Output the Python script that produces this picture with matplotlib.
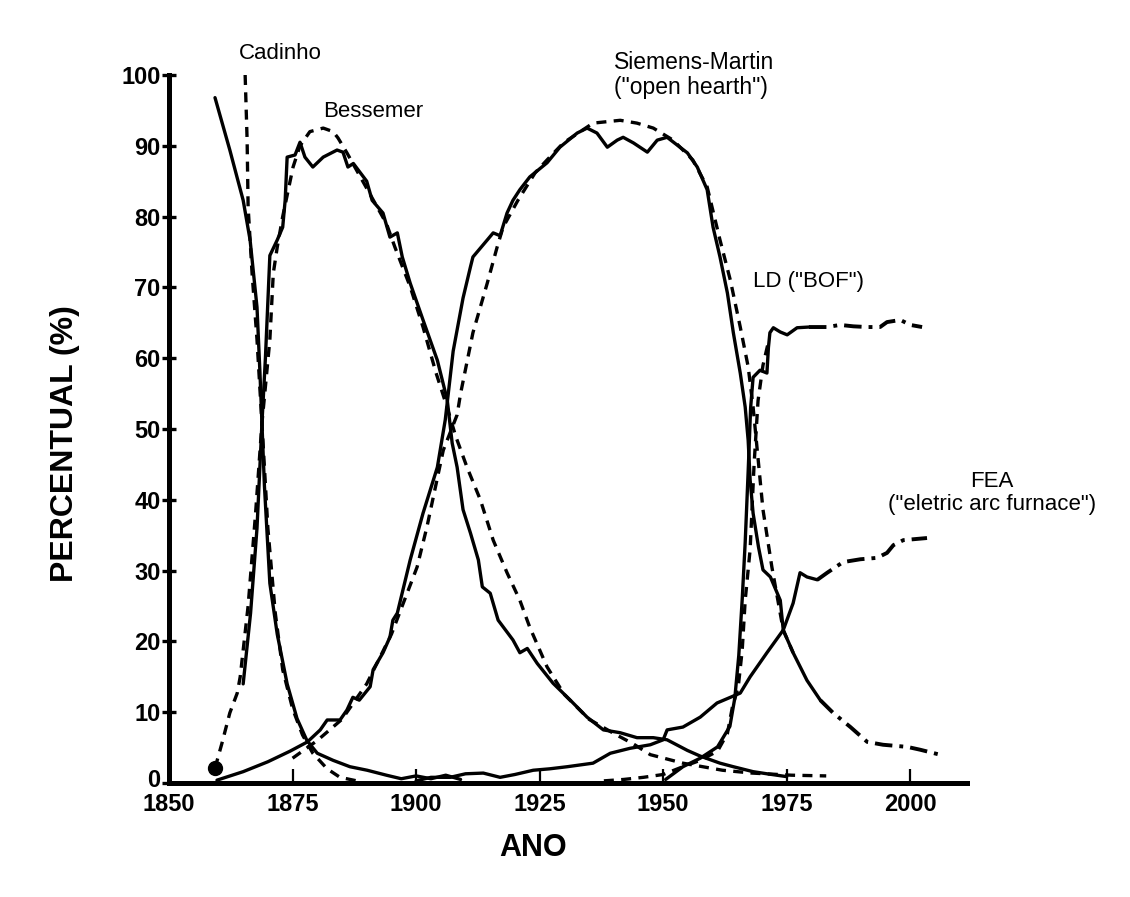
import matplotlib
matplotlib.use("Agg")
import matplotlib.pyplot as plt
import matplotlib.transforms as mtransforms

# ==========================================================
#  dados (ano, percentual)
# ==========================================================
cad_real_x = [1859.3, 1862.3, 1865.0, 1866.4, 1867.8, 1868.4, 1868.8, 1869.3, 1870.4, 1871.9,
              1873.9, 1875.9, 1877.9, 1880.0, 1883.2, 1886.6, 1890.1, 1894.0, 1897.0, 1900.0,
              1903.0, 1906.0, 1909.0]
cad_real_y = [96.8, 89.4, 82.3, 76.7, 67.2, 57.9, 50.8, 42.0, 28.2, 21.0,
              14.0, 9.1, 6.0, 4.2, 3.2, 2.3, 1.8, 1.1, 0.6, 1.0,
              0.6, 1.1, 0.5]

cad_fit_x = [1865.4, 1865.8, 1866.0, 1866.8, 1867.8, 1868.8, 1870.0, 1871.5, 1873.0, 1875.0,
             1877.0, 1879.1, 1882.0, 1884.6, 1888.0]
cad_fit_y = [100.0, 90.8, 81.4, 72.0, 62.6, 50.8, 36.0, 24.0, 16.0, 10.5,
             6.8, 4.2, 2.0, 0.8, 0.3]

bes_real_x = [1865.0, 1866.5, 1867.8, 1868.8, 1869.5, 1870.0, 1870.4, 1871.9, 1873.0, 1873.5,
              1873.9, 1875.5, 1876.5, 1877.5, 1879.1, 1881.2, 1884.0, 1885.2, 1886.2, 1887.3,
              1888.7, 1890.0, 1891.1, 1893.3, 1894.7, 1896.2, 1897.2, 1898.8, 1901.4, 1904.3,
              1906.3, 1907.3, 1908.3, 1909.5, 1911.0, 1912.6, 1913.4, 1915.0, 1916.6, 1919.6,
              1921.0, 1922.5, 1924.5, 1927.7, 1931.2, 1934.6, 1937.9, 1941.3, 1944.7, 1948.0,
              1950.8, 1954.9, 1957.5, 1961.5, 1964.2, 1968.2, 1971.0, 1975.0]
bes_real_y = [14.0, 24.0, 36.0, 50.8, 60.0, 68.0, 74.5, 76.7, 78.5, 82.3,
              88.4, 88.7, 90.5, 88.4, 87.0, 88.4, 89.4, 89.1, 87.0, 87.5,
              86.2, 85.0, 82.3, 80.5, 77.1, 77.7, 74.3, 70.6, 65.4, 59.7,
              54.1, 48.0, 44.6, 38.6, 35.3, 31.5, 27.7, 26.8, 23.0, 20.2,
              18.4, 19.0, 16.9, 14.1, 11.7, 9.3, 7.5, 7.1, 6.4, 6.4,
              6.1, 4.6, 3.8, 2.8, 2.3, 1.6, 1.3, 0.9]

bes_fit_x = [1859.3, 1860.7, 1862.3, 1863.8, 1864.4, 1866.0, 1867.5, 1868.8, 1870.4, 1871.1,
             1871.9, 1873.0, 1875.1, 1876.5, 1878.5, 1881.2, 1883.2, 1884.2, 1886.0, 1888.0,
             1890.0, 1892.0, 1894.0, 1895.7, 1898.8, 1901.4, 1904.0, 1906.3, 1908.0, 1910.3,
             1913.0, 1915.6, 1918.4, 1921.0, 1923.0, 1926.5, 1930.0, 1935.0, 1940.0, 1944.0,
             1947.4, 1954.0, 1962.0, 1968.0, 1976.0, 1983.0]
bes_fit_y = [2.1, 5.6, 9.9, 12.7, 15.0, 25.0, 38.0, 50.8, 62.6, 72.0,
             75.7, 80.0, 87.0, 90.0, 92.0, 92.5, 92.0, 91.1, 89.0, 86.5,
             84.0, 81.5, 79.0, 75.7, 70.1, 64.4, 58.0, 53.0, 49.0, 44.6,
             40.0, 34.3, 29.7, 25.8, 22.0, 16.4, 12.5, 9.0, 7.0, 5.5,
             4.0, 2.8, 1.8, 1.4, 1.1, 1.0]

sm_real_x = [1859.7, 1865.0, 1870.0, 1874.5, 1878.0, 1880.6, 1882.0, 1884.6, 1886.0, 1887.2,
             1888.5, 1890.7, 1891.3, 1893.3, 1894.7, 1895.3, 1896.2, 1898.8, 1901.4, 1904.3,
             1905.9, 1907.5, 1909.5, 1911.0, 1911.5, 1914.4, 1915.6, 1917.0, 1918.4, 1919.6,
             1921.0, 1923.0, 1926.5, 1929.1, 1932.6, 1934.6, 1936.6, 1938.7, 1940.7, 1941.9,
             1944.0, 1946.8, 1948.8, 1950.8, 1953.4, 1954.9, 1956.9, 1958.9, 1960.1, 1961.5,
             1963.0, 1964.2, 1965.6, 1966.6, 1967.2, 1967.6, 1968.2, 1969.3, 1970.2, 1971.7,
             1973.7, 1974.3, 1976.3, 1979.1, 1981.8]
sm_real_y = [0.4, 1.6, 3.0, 4.5, 5.8, 7.5, 8.9, 8.9, 10.3, 12.1,
             11.7, 13.6, 16.0, 18.4, 20.6, 23.0, 24.0, 31.5, 38.1, 44.6,
             51.3, 61.0, 68.5, 72.9, 74.3, 76.7, 77.7, 77.3, 80.5, 82.3,
             83.8, 85.6, 87.6, 89.8, 91.8, 92.5, 91.8, 89.8, 90.8, 91.2,
             90.4, 89.1, 90.8, 91.2, 89.8, 89.0, 87.0, 83.8, 78.5, 74.3,
             69.2, 63.6, 57.9, 53.1, 48.4, 42.8, 38.1, 33.3, 30.1, 29.1,
             25.8, 21.6, 18.4, 14.5, 11.7]
sm_tail_x = [1981.8, 1984.4, 1987.9, 1991.3, 1994.5, 1999.4, 2002.0, 2006.0]
sm_tail_y = [11.7, 9.9, 7.9, 5.8, 5.4, 5.1, 4.7, 4.0]

sm_fit_x = [1875.0, 1880.0, 1885.0, 1890.0, 1895.0, 1900.2, 1902.2, 1905.5, 1908.3, 1909.0,
            1911.5, 1914.4, 1916.4, 1917.6, 1920.6, 1924.1, 1926.5, 1929.8, 1935.8, 1941.3,
            1944.7, 1948.0, 1952.0, 1956.0, 1958.9, 1961.5, 1963.6, 1965.6, 1967.2, 1968.2,
            1970.2, 1972.0, 1974.3, 1976.3]
sm_fit_y = [3.5, 6.0, 9.0, 14.0, 21.0, 30.5, 36.2, 47.0, 52.0, 55.0,
            63.6, 70.6, 75.7, 78.5, 82.3, 86.2, 88.0, 90.4, 93.2, 93.6,
            93.2, 92.5, 90.8, 88.0, 84.2, 76.7, 71.0, 64.4, 58.8, 53.1,
            38.6, 30.5, 21.6, 18.4]

ld_real_x = [1950.5, 1954.0, 1957.5, 1961.0, 1963.5, 1964.5, 1965.3, 1966.0, 1966.6, 1967.2,
             1967.7, 1968.2, 1969.6, 1971.0, 1971.3, 1971.6, 1972.3, 1973.7, 1975.1, 1977.1,
             1979.5]
ld_real_y = [0.5, 2.3, 3.5, 5.1, 8.0, 12.0, 18.0, 26.0, 34.0, 44.0,
             53.0, 57.3, 58.3, 57.9, 61.5, 63.6, 64.3, 63.7, 63.3, 64.3,
             64.4]
ld_tail_x = [1979.5, 1983.2, 1985.8, 1988.5, 1991.3, 1993.9, 1995.3, 1998.0, 2000.0, 2002.4]
ld_tail_y = [64.4, 64.4, 64.7, 64.5, 64.4, 64.4, 65.1, 65.4, 64.7, 64.4]

ld_fit_x = [1938.0, 1942.0, 1946.0, 1950.0, 1954.0, 1957.5, 1961.0, 1963.0, 1964.0, 1965.2,
            1966.0, 1966.6, 1967.6, 1968.4, 1969.2, 1970.2, 1971.2]
ld_fit_y = [0.3, 0.5, 0.8, 1.2, 2.3, 3.2, 4.5, 7.0, 10.7, 13.6,
            18.8, 25.8, 33.0, 45.0, 54.0, 59.0, 62.0]

fea_real_x = [1900.0, 1903.0, 1906.9, 1910.0, 1913.6, 1917.0, 1920.0, 1923.7, 1927.0, 1930.6,
              1935.8, 1939.3, 1943.3, 1947.4, 1950.0, 1950.8, 1954.0, 1957.5, 1960.9, 1963.6,
              1965.6, 1967.6, 1971.0, 1974.3, 1976.3, 1977.7, 1979.1, 1981.2]
fea_real_y = [0.3, 0.8, 0.8, 1.3, 1.4, 0.8, 1.2, 1.8, 2.0, 2.3,
              2.8, 4.2, 4.9, 5.4, 6.1, 7.5, 7.9, 9.3, 11.3, 12.1,
              12.7, 15.0, 18.4, 21.6, 25.4, 29.7, 29.1, 28.7]
fea_tail_x = [1981.2, 1983.2, 1986.4, 1989.9, 1993.3, 1995.3, 1996.6, 1998.6, 2003.4]
fea_tail_y = [28.7, 29.7, 31.2, 31.6, 31.8, 32.5, 33.6, 34.3, 34.6]

start_dot = (1859.3, 2.1)

x_ticks = [1850, 1875, 1900, 1925, 1950, 1975, 2000]
y_ticks = [0, 10, 20, 30, 40, 50, 60, 70, 80, 90, 100]

# ==========================================================
#  figura
# ==========================================================
plt.rcParams["font.family"] = ["Liberation Sans", "DejaVu Sans"]

fig = plt.figure(figsize=(11.3, 8.97), dpi=100)
ax = fig.add_axes([0.1496, 0.1271, 0.7062, 0.7893])

LW = 2.4
DASH = (3.0, 2.2)
DASHDOT = (4.5, 1.8, 1, 1.8)

solid = dict(color="black", lw=LW, solid_capstyle="round", solid_joinstyle="round")
dashed = dict(color="black", lw=LW, linestyle=(0, DASH))
dashdot = dict(color="black", lw=LW + 0.4, linestyle=(0, DASHDOT))

# Cadinho
ax.plot(cad_real_x, cad_real_y, **solid)
ax.plot(cad_fit_x, cad_fit_y, **dashed)
# Bessemer
ax.plot(bes_real_x, bes_real_y, **solid)
ax.plot(bes_fit_x, bes_fit_y, **dashed)
ax.plot(*start_dot, marker="o", ms=10, color="black")
# Siemens-Martin
ax.plot(sm_real_x, sm_real_y, **solid)
ax.plot(sm_fit_x, sm_fit_y, **dashed)
ax.plot(sm_tail_x, sm_tail_y, **dashdot)
# LD
ax.plot(ld_real_x, ld_real_y, **solid)
ax.plot(ld_fit_x, ld_fit_y, **dashed)
ax.plot(ld_tail_x, ld_tail_y, **dashdot)
# FEA
ax.plot(fea_real_x, fea_real_y, **solid)
ax.plot(fea_tail_x, fea_tail_y, **dashdot)

# ==========================================================
#  eixos
# ==========================================================
ax.set_xlim(1850, 2011.5)
ax.set_ylim(0, 100)

for side in ["top", "right"]:
    ax.spines[side].set_visible(False)
for side in ["left", "bottom"]:
    ax.spines[side].set_linewidth(3.6)
    ax.spines[side].set_capstyle("projecting")

ax.set_xticks(x_ticks)
ax.set_yticks(y_ticks)
ax.tick_params(axis="x", direction="in", length=10, width=1.6, pad=7,
               labelsize=17)
ax.tick_params(axis="y", direction="inout", length=10, width=2.4, pad=1,
               labelsize=17)
for lab in ax.get_xticklabels() + ax.get_yticklabels():
    lab.set_fontweight("bold")

# "0" um pouco acima, como no original
zero_lab = ax.get_yticklabels()[0]
zero_lab.set_transform(zero_lab.get_transform() +
                       mtransforms.ScaledTranslation(0, 5 / 100, fig.dpi_scale_trans))

ax.set_xlabel("ANO", fontsize=22, fontweight="bold")
ax.xaxis.set_label_coords(0.456, -0.07)
ax.set_ylabel("PERCENTUAL (%)", fontsize=23, fontweight="bold")
ax.yaxis.set_label_coords(-0.111, 0.48)

# ==========================================================
#  rotulos das curvas
# ==========================================================
LBL = 16
ax.text(1872.5, 103.1, "Cadinho", fontsize=LBL, ha="center", va="center", clip_on=False)
ax.text(1891.3, 94.8, "Bessemer", fontsize=LBL, ha="center", va="center")
ax.text(1940.0, 100.0, "Siemens-Martin\n(\"open hearth\")", fontsize=LBL + 0.5,
        ha="left", va="center", linespacing=1.1, clip_on=False)
ax.text(1968.2, 70.8, "LD (\"BOF\")", fontsize=LBL, ha="left", va="center")
ax.text(2016.5, 41.0, "FEA\n(\"eletric arc furnace\")", fontsize=LBL,
        ha="center", va="center", linespacing=1.1, clip_on=False)

fig.savefig("out.png", dpi=100)
